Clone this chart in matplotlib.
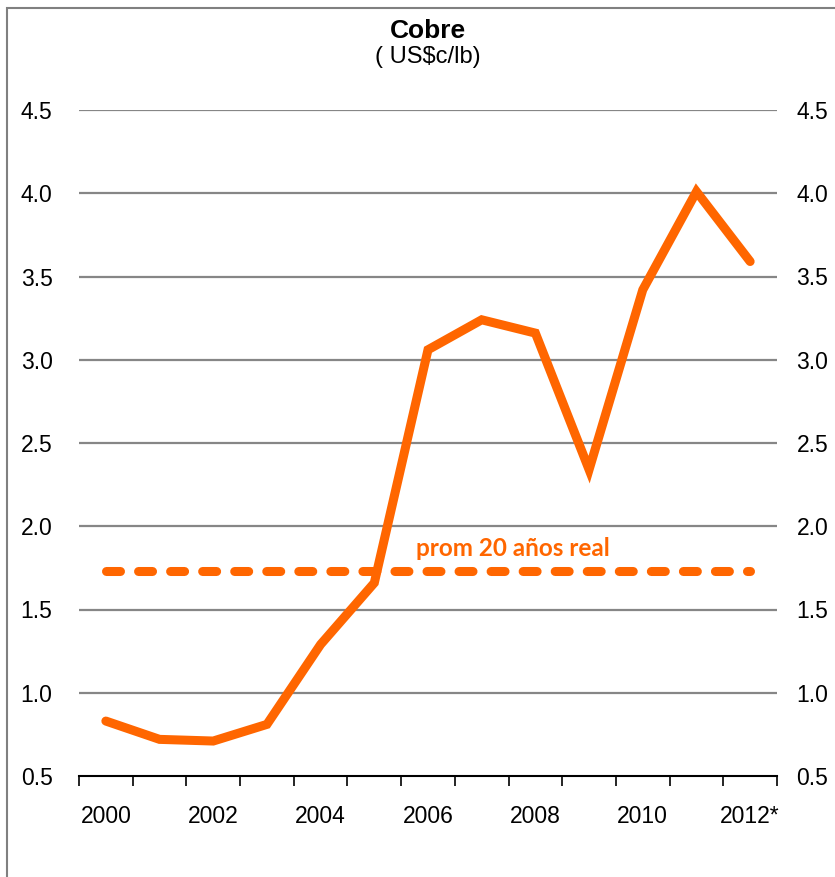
import matplotlib
matplotlib.use("Agg")
import matplotlib.pyplot as plt
from matplotlib.patches import Rectangle

years = ["2000", "2001", "2002", "2003", "2004", "2005", "2006",
         "2007", "2008", "2009", "2010", "2011", "2012*"]
precio = [0.83, 0.72, 0.71, 0.81, 1.29, 1.66, 3.06, 3.24, 3.16, 2.34, 3.42, 4.01, 3.59]
promedio = 1.73
yticks = [0.5, 1.0, 1.5, 2.0, 2.5, 3.0, 3.5, 4.0, 4.5]

orange = "#FF6600"
W, H = 835, 877
plt.rcParams['font.family'] = ['Liberation Sans', 'DejaVu Sans']
fig = plt.figure(figsize=(W / 100, H / 100), dpi=100)

left, right, top, bottom = 79, 777, 110, 776
ax = fig.add_axes([left / W, 1 - bottom / H, (right - left) / W, (bottom - top) / H])

x = list(range(len(years)))
ax.set_xlim(-0.5, len(years) - 0.5)
ax.set_ylim(0.5, 4.5)

for yv in yticks[1:]:
    ax.axhline(yv, color="#868686", lw=1.6, zorder=1)

ax.plot(x, precio, color=orange, lw=6.5, solid_joinstyle="miter", solid_capstyle="round", zorder=3)
ax.plot([x[0], x[-1]], [promedio, promedio], color=orange, lw=6.5,
        dashes=(1.55, 2.0), dash_capstyle="round", zorder=3)
ax.text(7.58, promedio + 0.07, "prom 20 años real", color=orange, fontsize=17.5,
        fontweight="bold", family=["Lato", "DejaVu Sans"], ha="center", va="bottom", zorder=4)

for s in ["top", "left", "right"]:
    ax.spines[s].set_visible(False)
ax.spines["bottom"].set_color("black")
ax.spines["bottom"].set_linewidth(1.5)

ax.set_xticks([i - 0.5 for i in range(len(years) + 1)], minor=False)
ax.set_xticklabels([])
ax.tick_params(axis="x", which="major", direction="out", length=7, width=1.2, color="black")
ax.set_xticks(x[::2], minor=True)
ax.set_xticklabels(years[::2], minor=True, fontsize=16.5)
ax.tick_params(axis="x", which="minor", length=0, pad=21)

ax.set_yticks(yticks)
ax.set_yticklabels([f"{v:.1f}" for v in yticks], fontsize=16.5)
ax.tick_params(axis="y", length=0, pad=19)

ax2 = ax.twinx()
ax2.set_ylim(ax.get_ylim())
ax2.set_yticks(yticks)
ax2.set_yticklabels([f"{v:.1f}" for v in yticks], fontsize=16.5)
ax2.tick_params(axis="y", length=0, pad=14)
for s in ax2.spines.values():
    s.set_visible(False)

fig.text(428 / W, 1 - 38 / H, "Cobre", ha="center", va="baseline", fontsize=19, fontweight="bold")
fig.text(428 / W, 1 - 63 / H, "( US$c/lb)", ha="center", va="baseline", fontsize=17)

fig.patches.append(Rectangle((7 / W, -0.1), 1.2, 1.1 - 8 / H, transform=fig.transFigure,
                             fill=False, edgecolor="#808080", lw=1.5))

fig.savefig("out.png", dpi=100)
